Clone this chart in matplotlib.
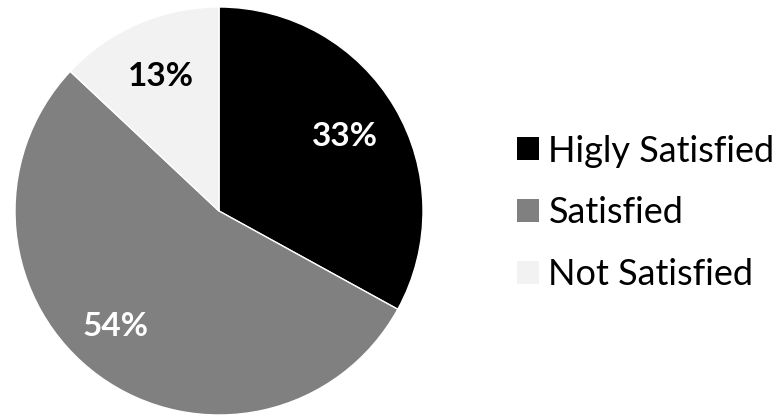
import matplotlib
matplotlib.use("Agg")
import matplotlib.pyplot as plt
import numpy as np
from matplotlib.patches import Patch

categories = ["Higly Satisfied", "Satisfied", "Not Satisfied"]
values = [33, 54, 13]
colors = ["#000000", "#808080", "#f2f2f2"]
label_colors = ["white", "white", "black"]

plt.rcParams['font.family'] = ['Lato', 'DejaVu Sans']

W, H = 784, 416
fig = plt.figure(figsize=(W / 100, H / 100), dpi=100)
cx, cy, r = 219, 211, 204
ax = fig.add_axes([(cx - r) / W, (H - cy - r) / H, 2 * r / W, 2 * r / H])
wedges, _ = ax.pie(values, colors=colors, startangle=90, counterclock=False,
                   radius=1, wedgeprops=dict(edgecolor="white", linewidth=1))
ax.set_xlim(-1, 1)
ax.set_ylim(-1, 1)
ax.set_aspect('equal')
ax.axis('off')

# label radial distance / angle tweaks
dists = [0.72, 0.76, 0.72]
angle_shift = [0, -6, 0]
for w, v, c, d, s in zip(wedges, values, label_colors, dists, angle_shift):
    ang = np.deg2rad((w.theta1 + w.theta2) / 2 + s)
    ax.text(d * np.cos(ang), d * np.sin(ang), f"{v}%", ha="center", va="center",
            color=c, fontsize=24, fontweight="bold")

handles = [Patch(facecolor=col, edgecolor='none') for col in colors]
fig.legend(handles, categories, loc="center left", bbox_to_anchor=(517 / W, 1 - 213 / H),
           frameon=False, fontsize=26, handlelength=0.6, handleheight=0.6,
           handletextpad=0.27, labelspacing=0.8, borderpad=0, borderaxespad=0)

fig.savefig("out.png", dpi=100)
